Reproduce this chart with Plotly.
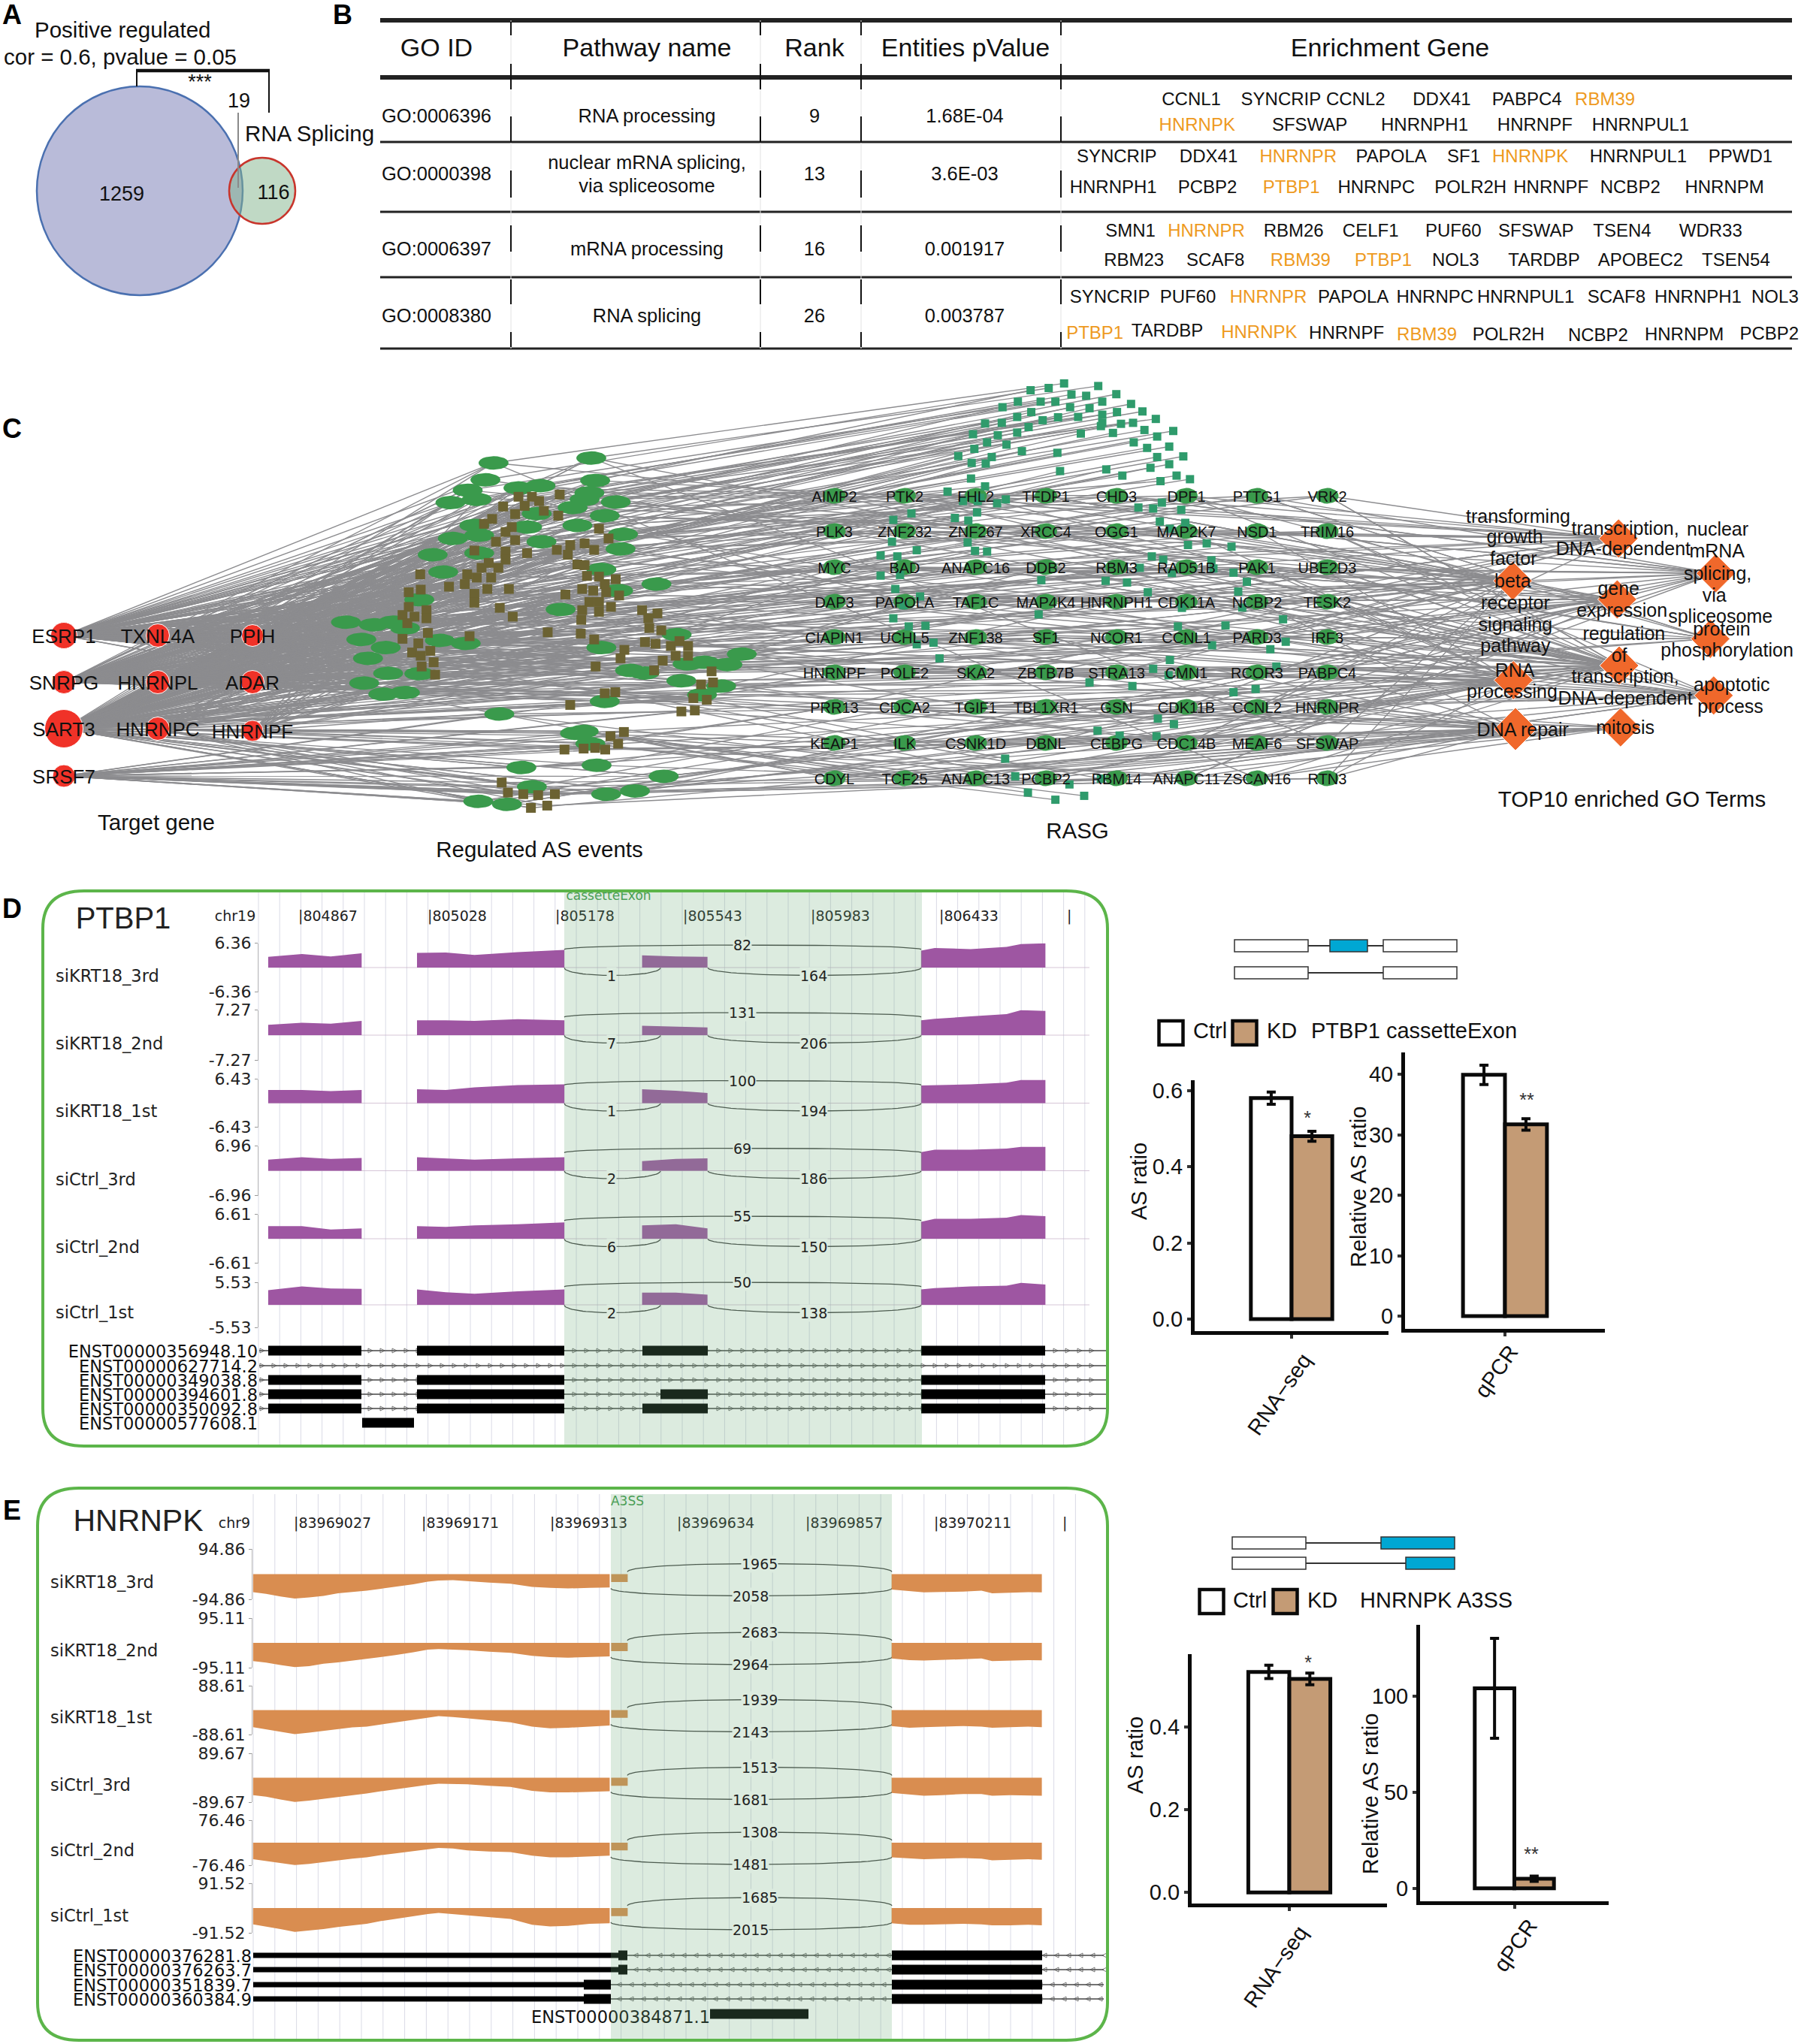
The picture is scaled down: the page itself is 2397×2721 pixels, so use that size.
import numpy as np
import plotly.graph_objects as go

W, H = 2397, 2721
ARIAL = "Liberation Sans"
DEJA = "DejaVu Sans"

# ---------- Panel A ----------
venn_big = (186, 254, 137, 139)
venn_small = (349, 254, 44, 44)
venn_labels = [("1259", 162, 257), ("116", 364, 255), ("19", 318, 133), ("***", 266, 108)]
a_titles = [("Positive regulated", 46, 40), ("cor = 0.6, pvalue = 0.05", 5, 76), ("RNA Splicing", 326, 178)]

# ---------- Panel B ----------
table_h_lines = [(27, 6), (103, 6), (189, 3), (282, 3), (369, 3), (464, 3)]
table_cols = [680, 1012, 1146, 1412]
table_col_segments = [(29, 47), (85, 119), (155, 190), (227, 263), (300, 335), (372, 405), (442, 462)]
table_head = [("GO ID", 581), ("Pathway name", 861), ("Rank", 1084), ("Entities pValue", 1285), ("Enrichment Gene", 1850)]
go_ids = ["GO:0006396", "GO:0000398", "GO:0006397", "GO:0008380"]
pathways = [["RNA processing"], ["nuclear mRNA splicing,", "via spliceosome"], ["mRNA processing"], ["RNA splicing"]]
pathway_y = [[154], [216, 247], [331], [420]]
ranks = ["9", "13", "16", "26"]
pvalues = ["1.68E-04", "3.6E-03", "0.001917", "0.003787"]
row_y = [154, 231, 331, 420]
# (gene, x in the 0.654-scale reading, y, highlighted)
gene_rows = [
    ("CCNL1", 1037, 131, 0), ("SYNCRIP", 1115, 131, 0), ("CCNL2", 1180, 131, 0), ("DDX41", 1255, 131, 0), ("PABPC4", 1329, 131, 0), ("RBM39", 1397, 131, 1),
    ("HNRNPK", 1042, 165, 1), ("SFSWAP", 1140, 165, 0), ("HNRNPH1", 1240, 165, 0), ("HNRNPF", 1336, 165, 0), ("HNRNPUL1", 1428, 165, 0),
    ("SYNCRIP", 972, 207, 0), ("DDX41", 1052, 207, 0), ("HNRNPR", 1130, 207, 1), ("PAPOLA", 1211, 207, 0), ("SF1", 1274, 207, 0), ("HNRNPK", 1332, 207, 1), ("HNRNPUL1", 1426, 207, 0), ("PPWD1", 1515, 207, 0),
    ("HNRNPH1", 969, 248, 0), ("PCBP2", 1051, 248, 0), ("PTBP1", 1124, 248, 1), ("HNRNPC", 1198, 248, 0), ("POLR2H", 1280, 248, 0), ("HNRNPF", 1350, 248, 0), ("NCBP2", 1419, 248, 0), ("HNRNPM", 1501, 248, 0),
    ("SMN1", 984, 306, 0), ("HNRNPR", 1050, 306, 1), ("RBM26", 1126, 306, 0), ("CELF1", 1193, 306, 0), ("PUF60", 1265, 306, 0), ("SFSWAP", 1337, 306, 0), ("TSEN4", 1412, 306, 0), ("WDR33", 1489, 306, 0),
    ("RBM23", 987, 345, 0), ("SCAF8", 1058, 345, 0), ("RBM39", 1132, 345, 1), ("PTBP1", 1204, 345, 1), ("NOL3", 1267, 345, 0), ("TARDBP", 1344, 345, 0), ("APOBEC2", 1428, 345, 0), ("TSEN54", 1511, 345, 0),
    ("SYNCRIP", 966, 394, 0), ("PUF60", 1034, 394, 0), ("HNRNPR", 1104, 394, 1), ("PAPOLA", 1178, 394, 0), ("HNRNPC", 1249, 394, 0), ("HNRNPUL1", 1328, 394, 0), ("SCAF8", 1407, 394, 0), ("HNRNPH1", 1478, 394, 0), ("NOL3", 1545, 394, 0),
    ("PTBP1", 953, 442, 1), ("TARDBP", 1016, 439, 0), ("HNRNPK", 1096, 441, 1), ("HNRNPF", 1172, 442, 0), ("RBM39", 1242, 444, 1), ("POLR2H", 1313, 444, 0), ("NCBP2", 1391, 445, 0), ("HNRNPM", 1466, 444, 0), ("PCBP2", 1540, 443, 0),
]

# ---------- Panel C ----------
targets = [("ESRP1", 85, 846, 35), ("TXNL4A", 210, 846, 31), ("PPIH", 336, 846, 29),
           ("SNRPG", 85, 908, 31), ("HNRNPL", 210, 908, 31), ("ADAR", 336, 908, 31),
           ("SART3", 85, 970, 51), ("HNRNPC", 210, 970, 31), ("HNRNPF", 336, 973, 28),
           ("SRSF7", 85, 1033, 30)]
# positions read in the 1.568 x 2.306 zoom of (0,500)
as_green = [(1030,268),(1234,253),(1013,320),(1242,322),(1128,338),(1082,345),(976,352),(995,380),(940,390),(1230,360),(1285,388),(1220,380),(1195,405),(1262,430),(1120,424),(1205,460),(990,460),(1100,465),(1300,487),(945,500),(1000,490),(1130,510),(1295,532),(903,550),(1000,545),(925,603),(1255,595),(1370,640),(1290,660),(875,688),(1170,718),(722,757),(780,765),(820,757),(845,775),(754,810),(805,835),(918,813),(972,822),(768,868),(1255,835),(1412,795),(810,914),(875,915),(1548,855),(1435,885),(1470,880),(1518,887),(1315,905),(1345,913),(1422,937),(1505,953),(760,944),(1465,980),(800,978),(845,973),(1262,1000),(1042,1039),(1218,1092),(1200,1098),(1232,1130),(1088,1203),(1245,1196),(1385,1230),(1110,1262),(1265,1285),(1325,1275),(998,1307),(1058,1316)]
as_brown = [(877,610),(853,665),(878,657),(937,648),(853,710),(890,720),(840,735),(865,740),(890,745),(850,760),(893,790),(840,808),(873,822),(860,850),(898,845),(878,860),(905,880),(880,893),(908,918),(980,800),
            (1168,365),(1082,372),(1110,372),(1050,402),(1095,400),(1125,385),(1075,425),(1027,440),(1010,455),(1068,465),(1055,480),(1165,430),(1135,415),(1075,505),(1035,510),(990,537),(1055,540),(1100,545),(1162,535),(1190,520),(1220,515),(1250,470),(1270,500),(1240,535),(1185,550),(1055,565),(1020,575),(1040,590),(1005,590),(975,610),(995,620),(1025,620),(970,640),(1017,655),(1062,655),(990,670),(990,697),(1043,713),(1070,740),(1205,580),(1220,582),(1225,615),(1250,617),(1285,625),(1215,655),(1238,660),(1262,640),(1265,665),(1292,675),(1180,672),(1230,695),(1250,695),(1275,710),(1215,720),(1250,725),(1213,750),(1143,788),(1212,792),(1240,810),(1303,842),(1340,720),(1372,730),(1353,745),(1355,775),(1346,818),(1368,823),(1380,782),(1400,830),(1418,815),(1436,830),(1410,860),(1436,860),(1295,868),(1383,875),(1243,893),(1365,905),(1485,908),(1463,948),(1488,942),(1447,990),(1475,995),(1262,975),(1284,972),(1190,1011),(1422,1031),(1450,1028),(1302,1094),(1274,1107),(1290,1130),(1178,1148),(1218,1145),(1242,1143),(1263,1148),(1047,1249),(1060,1280),(1092,1285),(1123,1288),(1158,1285),(1108,1327),(1142,1320)]
# positions read in the 1.122 x 2.306 zoom of (1000,500)
rasg_squares = [(467,24),(518,32),(417,45),(444,38),(545,57),(478,58),(500,62),(398,80),(432,80),(454,80),(524,80),(567,87),(375,97),(476,97),(505,100),(418,112),(546,112),(584,110),(397,127),(524,120),(488,127),(458,128),(435,137),(604,133),(349,147),(374,145),(414,158),(524,145),(552,148),(570,145),(522,155),(587,167),(630,170),(397,175),(368,183),(331,180),(492,178),(540,176),(606,187),(352,205),(571,205),(381,212),(333,225),(591,222),(624,218),(404,232),(457,237),(309,247),(359,250),(606,250),(645,248),(329,268),(350,270),(624,272),(596,283),(461,293),(530,288),(554,307),(635,307),(655,318),(328,316),(611,324),(349,340),(293,356),(380,380),(367,392),(316,385),(338,385),(342,375),(613,390),(578,405),(600,408),(642,412),(337,420),(239,423),(212,443),(304,437),(324,445),(610,448),(648,452),(625,470),(210,510),(323,512),(652,520),(680,515),(717,525),(247,536),(334,538),(352,540),(193,552),(218,555),(598,555),(615,565),(687,567),(580,590),(628,606),(690,592),(720,605),(193,614),(222,612),(433,628),(529,630),(561,635),(740,633),(215,655),(592,665),(727,663),(252,678),(227,705),(429,733),(643,713),(733,712),(212,745),(794,748),(708,767),(235,770),(260,768),(637,770),(247,825),(272,820),(798,817),(688,828),(775,840),(281,868),(625,873),(600,900),(784,893),(623,920),(505,942),(569,953),(720,972),(753,962),(607,1053),(631,1070),(517,1090),(550,1105),(605,1107),(379,1176),(394,1230),(522,1237),(475,1255),(413,1280),(497,1290),(454,1302)]
rasg_col_x = [1110.5, 1204, 1298.6, 1392, 1486, 1579, 1673, 1766.5]
rasg_row_y = [660, 707, 755, 801, 848, 895, 941, 989, 1036]
rasg_names = ["AIMP2","PTK2","FHL2","TFDP1","CHD3","DPF1","PTTG1","VRK2",
              "PLK3","ZNF232","ZNF267","XRCC4","OGG1","MAP2K7","NSD1","TRIM16",
              "MYC","BAD","ANAPC16","DDB2","RBM3","RAD51B","PAK1","UBE2D3",
              "DAP3","PAPOLA","TAF1C","MAP4K4","HNRNPH1","CDK11A","NCBP2","TESK2",
              "CIAPIN1","UCHL5","ZNF138","SF1","NCOR1","CCNL1","PARD3","IRF3",
              "HNRNPF","POLE2","SKA2","ZBTB7B","STRA13","CMN1","RCOR3","PABPC4",
              "PRR13","CDCA2","TGIF1","TBL1XR1","GSN","CDK11B","CCNL2","HNRNPR",
              "KEAP1","ILK","CSNK1D","DBNL","CEBPG","CDC14B","MEAF6","SFSWAP",
              "CDYL","TCF25","ANAPC13","PCBP2","RBM14","ANAPC11","ZSCAN16","RTN3"]
go_nodes = [(1295,500,40),(1440,607,40),(1137,630,40),(1293,687,40),(1432,808,40),(1296,890,40),(1138,935,40),(1437,982,40),(1298,1080,40),(1141,1085,44)]
go_texts = [("transforming",1145,430),("growth",1140,493),("factor",1138,560),("beta",1137,628),("receptor",1141,695),("signaling",1141,762),("pathway",1141,828),
            ("transcription,",1305,467),("DNA-dependent",1302,530),("nuclear",1443,470),("mRNA",1442,537),("splicing,",1443,605),("via",1438,672),("spliceosome",1447,737),
            ("gene",1295,652),("expression",1300,718),("regulation",1303,790),("of",1296,857),("transcription,",1305,922),("DNA-dependent",1305,988),
            ("protein",1449,776),("phosphorylation",1457,842),("RNA",1140,903),("processing",1136,967),("apoptotic",1464,948),("process",1462,1013),("mitosis",1305,1078),("DNA repair",1152,1085)]
c_captions = [("Target gene", 208, 1095), ("Regulated AS events", 718, 1131), ("RASG", 1434, 1106), ("TOP10 enriched GO Terms", 2172, 1064)]
# Network links: the individual lines cannot be traced in the reference, so this
# hand-typed wiring only approximates the density and direction of the edge bundles.
green_t1 = "630146260136740361824062613740261386406371642601346064713769969699696"
green_t2 = "063621483061702636403813620741638062371604136280271364063966769969679"
green_t3 = "363605406134630645360136463053646301635406134506346036345066996676969"
brown_t1 = "6301462601367403618240626137402613864063716426013460647136301462601367403618240626137402613864063716420"
brown_tail1 = "96996769969697969"
brown_t2 = "3670261436081826406316473026831640367046172064310637410624630127364018632607416238064721604361702638640"
brown_tail2 = "69769996796969967"
brown_t3 = "6345036406354603640536406354036460350643605346036450634603645063540634603564036450364063546035406346036"
brown_t4 = "4063640536046350634603564036406354603640536046350634603645036046350634063546304635460364053604635063460"
grid_src_a = [0,3,5,7,9,12,15,18, 21,24,1,4,8,95,100,105, 110,115,120,125,130,35,40,45, 31,36,41,46,51,135,140,145,
              150,155,160,165,33,38,43,48, 53,56,75,80,85,170,172,174, 178,52,47,57,59,61,63,65, 67,68,175,178,181,184,187,190, 58,60,62,64,66,176,180,186]
grid_src_b = [90,96,102,108,114,120,126,132, 2,6,10,14,19,23,27,29, 32,37,42,49,54,70,76,82, 88,94,99,106,112,118,124,137,
              143,149,156,162,168,71,77,83, 30,34,39,44,50,55,147,158, 60,62,64,66,68,171,177,183, 59,61,63,65,67,173,179,185, 57,58,176,182,188,184,189,186]
square_src = [0,1,3,2,9,4,5,8,6,7,11,10,12,13,15,17,14,16,89,90,91,92,93,94,95,96,97,98,99,100,101,102,103,104,105,106,107,108,109,110,
              111,112,113,114,115,116,117,118,119,120,121,122,123,124,125,126,127,128,129,130,18,19,20,21,22,23,24,25,26,27,28,29,30,
              131,132,133,134,135,136,137,138,139,140,141,142,143,144,145,146,147,148,149,150,151,152,31,32,33,34,35,36,37,38,39,40,41,42,43,44,
              153,154,155,156,157,158,159,160,161,162,163,164,165,45,46,47,48,49,50,51,52,53,54,55,56,166,167,168,169,170,171,57,58,59,60,61,172]
grid_go_a = "02520215"+"05250317"+"25053142"+"53160527"+"06251473"+"56396751"+"96586937"+"69895698"+"98968989"
grid_go_b = "25021540"+"53142065"+"31526047"+"25731602"+"53790425"+"63952417"+"58693275"+"95638175"+"69857396"
grid_go_c = "50231045"+"20553614"+"02573165"+"73520496"+"69257301"+"53620749"+"06753928"+"53976012"+"85697352"

# ---------- Panel D ----------
samples = ["siKRT18_3rd", "siKRT18_2nd", "siKRT18_1st", "siCtrl_3rd", "siCtrl_2nd", "siCtrl_1st"]
d_max = [6.36, 7.27, 6.43, 6.96, 6.61, 5.53]
d_base = [1288, 1378, 1468.5, 1558.5, 1649, 1737]
d_half = [32.5, 33.5, 32, 33, 32.5, 30]
d_label_y = [1298, 1388, 1478, 1569, 1659, 1746]
d_exon_x = [[373,420,460,503], [580,620,660,720,785], [893,940,984], [1281,1300,1350,1400,1420,1454]]
d_cov = [
    [[2.8,3.5,2.9,3.7],[3.8,3.9,3.3,4.0,4.6],[3.2,2.9,2.8],[4.4,5.1,4.8,5.4,6.1,6.3]],
    [[3.0,3.6,3.3,4.1],[4.3,4.3,4.1,4.6,4.3],[2.7,2.4,2.2],[4.3,4.7,5.4,6.1,7.2,7.0]],
    [[3.5,3.5,3.2,3.5],[3.7,3.5,4.2,4.8,5.0],[3.7,3.3,2.7],[4.7,4.8,5.0,5.5,6.2,6.2]],
    [[3.1,3.8,3.3,3.6],[3.8,3.5,3.1,3.5,3.8],[2.7,3.3,3.5],[5.2,5.9,5.9,6.2,6.7,6.7]],
    [[3.4,3.4,2.5,2.8],[3.4,3.2,3.6,3.9,4.4],[3.6,3.9,2.8],[4.6,5.4,5.4,5.7,6.4,6.1]],
    [[3.6,4.5,4.0,3.9],[3.8,3.1,2.7,3.3,3.8],[3.0,3.0,2.5],[3.8,4.1,4.5,4.7,5.4,5.0]],
]
d_junctions = [(82,1,164),(131,7,206),(100,1,194),(69,2,186),(55,6,150),(50,2,138)]
d_ticks = [("804867",397),("805028",569),("805178",739),("805543",909),("805983",1079),("806433",1250),("",1420)]
d_tx_names = ["ENST00000356948.10","ENST00000627714.2","ENST00000349038.8","ENST00000394601.8","ENST00000350092.8","ENST00000577608.1"]
d_tx_y = [1798,1818,1837,1856,1875,1894]
d_tx_exons = [[(357,481),(555,751),(855,942),(1226,1391)], [], [(357,481),(555,751),(1226,1391)],
              [(357,481),(555,751),(879,942),(1226,1391)], [(357,481),(555,751),(855,942),(1226,1391)], [(482,551)]]
d_tx_line = [1,1,1,1,1,0]

# ---------- Panel E ----------
e_max = [94.86, 95.11, 88.61, 89.67, 76.46, 91.52]
e_base = [2095.5, 2187, 2276.5, 2366.5, 2453, 2540]
e_half = [33.5, 33, 32.5, 32.5, 30, 33]
e_label_y = [2105, 2196, 2285, 2375, 2462, 2549]
e_left_x = [352,370,390,410,430,450,470,490,510,530,550,575,595,610,630,650,680,710,740,765,790,820,848]
e_mid_x = [850,873]
e_right_x = [1240,1265,1285,1310,1340,1365,1380,1405,1430,1449]
e_left = [
    [68,74,84,92,88,82,72,68,62,55,48,38,28,24,23,27,32,36,48,52,54,52,50],
    [70,76,85,93,89,80,75,68,60,54,47,36,26,24,25,28,34,38,50,55,57,54,52],
    [62,70,80,87,82,76,68,63,60,52,44,34,26,22,25,30,36,44,60,66,64,60,56],
    [64,70,80,89,84,78,72,64,58,50,42,32,26,22,22,24,30,34,48,54,54,52,50],
    [56,62,70,76,72,66,60,54,50,42,36,28,22,18,20,26,30,32,44,50,50,46,44],
    [60,68,78,88,84,78,70,64,58,48,40,28,22,18,22,26,32,40,62,68,66,58,56],
]
e_mid = [[30,30],[32,32],[28,28],[30,30],[26,26],[30,30]]
e_right = [
    [58,64,69,67,66,62,72,70,68,69],
    [60,66,68,66,64,60,70,68,66,67],
    [58,64,62,60,58,60,64,62,60,62],
    [56,62,66,64,60,60,66,64,64,66],
    [50,54,56,54,52,54,60,58,56,58],
    [56,62,62,60,58,60,64,64,62,64],
]
e_junctions = [(1965,2058),(2683,2964),(1939,2143),(1513,1681),(1308,1481),(1685,2015)]
e_ticks = [("83969027",391),("83969171",561),("83969313",732),("83969634",901),("83969857",1072),("83970211",1243),("",1414)]
e_tx_names = ["ENST00000376281.8","ENST00000376263.7","ENST00000351839.7","ENST00000360384.9"]
e_tx_y = [2603,2622,2642,2661]
e_tx_utr_end = [823,823,777,777]
e_tx_exons = [[(823,835),(1187,1387)],[(823,835),(1187,1387)],[(777,813),(1187,1387)],[(777,813),(1187,1387)]]

# ---------- Bars ----------
bar_cat_rna = ["RNA\u2212seq"]
bar_cat_qpcr = ["qPCR"]
d_rna_val, d_rna_err = [0.58, 0.48], [0.016, 0.013]
d_qpcr_val, d_qpcr_err = [39.9, 31.7], [1.6, 0.95]
e_rna_val, e_rna_err = [0.533, 0.516], [0.016, 0.014]
e_qpcr_val, e_qpcr_err = [104, 5], [26, 1.4]

GRAY_EDGE = "#8C8C8F"
PURPLE = "#9E56A2"
ORANGE = "#D98D50"
TAN = "#C49B75"
BLUE = "#00A7D3"
TEXT_DY = 3

fig = go.Figure()
shapes, annots = [], []
layout = dict(xaxis=dict(domain=[0,1], range=[0,W], visible=False, fixedrange=True, automargin=False),
              yaxis=dict(domain=[0,1], range=[H,0], visible=False, fixedrange=True, automargin=False))


def text(items, size, color="#111", family=ARIAL, pos="middle center"):
    fig.add_trace(go.Scatter(x=[i[1] for i in items], y=[i[2]+TEXT_DY for i in items], text=[i[0] for i in items],
                             mode="text", textposition=pos, textfont=dict(size=size, color=color, family=family),
                             showlegend=False, hoverinfo="skip", xaxis="x", yaxis="y"))


def lines(segs, color="#000", width=1.0):
    xs, ys = [], []
    for s in segs:
        xs += [p[0] for p in s] + [None]
        ys += [p[1] for p in s] + [None]
    fig.add_trace(go.Scatter(x=xs, y=ys, mode="lines", line=dict(color=color, width=width),
                             showlegend=False, hoverinfo="skip", xaxis="x", yaxis="y"))


def rect(x0, x1, yc, h, fill="#000", line="#000", lw=0, layer="above"):
    shapes.append(dict(type="rect", xref="x", yref="y", x0=x0, x1=x1, y0=yc-h/2, y1=yc+h/2,
                       fillcolor=fill, line=dict(color=line, width=lw), layer=layer))


def frame(x0, y0, x1, y1, rx, ry, color="#5CB54A"):
    p = (f"M {x0+rx} {y0} L {x1-rx} {y0} Q {x1} {y0} {x1} {y0+ry} L {x1} {y1-ry} Q {x1} {y1} {x1-rx} {y1} "
         f"L {x0+rx} {y1} Q {x0} {y1} {x0} {y1-ry} L {x0} {y0+ry} Q {x0} {y0} {x0+rx} {y0} Z")
    shapes.append(dict(type="path", xref="x", yref="y", path=p, line=dict(color=color, width=4), layer="above"))


def arc(x0, y0, x1, peak):
    t = np.linspace(0, 1, 40)
    yc = y0 + (peak - y0) / 0.75
    xx = (1-t)**3*x0 + 3*(1-t)**2*t*x0 + 3*(1-t)*t**2*x1 + t**3*x1
    yy = (1-t)**3*y0 + 3*(1-t)**2*t*yc + 3*(1-t)*t**2*yc + t**3*y0
    return list(zip(xx, yy))


def junction_label(val, x, y):
    annots.append(dict(text=str(val), x=x, y=y, xref="x", yref="y", showarrow=False, bgcolor="#DCEBDF", borderpad=0,
                       font=dict(family=DEJA, size=19, color="#222")))


def y_title(t, x, y):
    annots.append(dict(text=t, x=x, y=y, xref="x", yref="y", showarrow=False, textangle=-90,
                       font=dict(family=ARIAL, size=29, color="#111")))


# grid lines in sashimi panels
lines([[(x, 1186), (x, 1925)] for x in np.arange(344, 1451, 28.2)], "#DADBE6", 1)
lines([[(x, 1989), (x, 2715)] for x in np.arange(337, 1444, 28.8)], "#DADBE6", 1)

# ---------- Panel A draw ----------
for (cx, cy, rx, ry), fill, ln in [(venn_big, "rgba(115,120,180,0.5)", "#4A70B0"), (venn_small, "rgba(130,180,140,0.5)", "#C8352C")]:
    shapes.append(dict(type="circle", xref="x", yref="y", x0=cx-rx, x1=cx+rx, y0=cy-ry, y1=cy+ry,
                       fillcolor=fill, line=dict(color=ln, width=2.5), layer="below"))
lines([[(182, 115), (182, 94)], [(358, 94), (358, 150)]], "#111", 2)
lines([[(181, 94), (359, 94)]], "#111", 4.5)
lines([[(317, 150), (317, 250)]], "#8A8A8A", 2)
text(venn_labels, 27)
text(a_titles, 29.5, pos="middle right")
text([("<b>A</b>", 16, 20), ("<b>B</b>", 456, 20), ("<b>C</b>", 16, 571), ("<b>D</b>", 16, 1210), ("<b>E</b>", 16, 2011)], 36, "#000")
# ---------- Panel B draw ----------
for y, w in table_h_lines:
    lines([[(506, y), (2385, y)]], "#222", w)
lines([[(c, 27), (c, 464)] for c in table_cols], "#E2E2E2", 1)
lines([[(c, a), (c, b)] for c in table_cols for a, b in table_col_segments], "#111", 2)
text([(t, x, 63) for t, x in table_head], 34)
text([(t, 581, y) for t, y in zip(go_ids, row_y)], 25.5)
text([(t, 861, y) for ts, ys in zip(pathways, pathway_y) for t, y in zip(ts, ys)], 25.5)
text([(t, 1084, y) for t, y in zip(ranks, row_y)], 25.5)
text([(t, 1284, y) for t, y in zip(pvalues, row_y)], 25.5)
text([(g, x/0.654, y) for g, x, y, h in gene_rows if not h], 24)
text([(g, x/0.654, y) for g, x, y, h in gene_rows if h], 24, "#EE9A1E")

# ---------- Panel C draw ----------
def zl(p): return (p[0]/1.568, 500+p[1]/2.306)
def zr(p): return (1000+p[0]/1.122, 500+p[1]/2.306)
green_xy = [zl(p) for p in as_green]
brown_xy = [zl(p) for p in as_brown]
events = green_xy + brown_xy
square_xy = [zr(p) for p in rasg_squares]
grid_xy = [(x, y) for y in rasg_row_y for x in rasg_col_x]
go_xy = [zr(p[:2]) for p in go_nodes]
target_xy = [(t[1], t[2]) for t in targets]
n_tail = len(brown_tail1)
brown_body = brown_xy[:-n_tail]
brown_end = brown_xy[-n_tail:]

edges = []
for s in (green_t1, green_t2, green_t3):
    edges += [[target_xy[int(ch)], p] for ch, p in zip(s, green_xy)]
for s in (brown_t1, brown_t2, brown_t3, brown_t4):
    edges += [[target_xy[int(ch)], p] for ch, p in zip(s, brown_body)]
for s in (brown_tail1, brown_tail2):
    edges += [[target_xy[int(ch)], p] for ch, p in zip(s, brown_end)]
for src in (grid_src_a, grid_src_b):
    for i, e in enumerate(src):
        edges.append([events[e % len(events)], grid_xy[i]])
for e, p in zip(square_src, square_xy):
    edges.append([events[e % len(events)], p])
for s in (grid_go_a, grid_go_b, grid_go_c):
    for i, ch in enumerate(s):
        edges.append([grid_xy[i], go_xy[int(ch)]])
lines(edges, GRAY_EDGE, 1.4)


def ellipses(xy, rx, ry, color):
    t = np.linspace(0, 2*np.pi, 25)
    xs, ys = [], []
    for cx, cy in xy:
        xs += list(cx + rx*np.cos(t)) + [None]
        ys += list(cy + ry*np.sin(t)) + [None]
    fig.add_trace(go.Scatter(x=xs, y=ys, mode="lines", fill="toself", fillcolor=color, line=dict(width=0, color=color),
                             showlegend=False, hoverinfo="skip", xaxis="x", yaxis="y"))


ellipses(green_xy, 20, 9, "#3A9A4C")
ellipses(grid_xy, 15, 10.5, "#3A9A4C")
fig.add_trace(go.Scatter(x=[p[0] for p in brown_xy], y=[p[1] for p in brown_xy], mode="markers",
                         marker=dict(symbol="square", size=13, color="#6B6232", opacity=1), showlegend=False, hoverinfo="skip", xaxis="x", yaxis="y"))
fig.add_trace(go.Scatter(x=[p[0] for p in square_xy], y=[p[1] for p in square_xy], mode="markers",
                         marker=dict(symbol="square", size=11, color="#2F9B6C", opacity=1), showlegend=False, hoverinfo="skip", xaxis="x", yaxis="y"))
fig.add_trace(go.Scatter(x=[t[1] for t in targets], y=[t[2] for t in targets], mode="markers",
                         marker=dict(size=[t[3] for t in targets], color="#F03228", opacity=1), showlegend=False, hoverinfo="skip", xaxis="x", yaxis="y"))
fig.add_trace(go.Scatter(x=[p[0] for p in go_xy], y=[p[1] for p in go_xy], mode="markers",
                         marker=dict(symbol="diamond", size=[n[2] for n in go_nodes], color="#F0682B", opacity=1), showlegend=False, hoverinfo="skip", xaxis="x", yaxis="y"))
text([(t[0], t[1], t[2]) for t in targets], 26)
text([(n, x, y) for n, (x, y) in zip(rasg_names, grid_xy)], 20)
text([(t, *zr((x, y))) for t, x, y in go_texts], 25)
text(c_captions, 29.5)


# ---------- Tracks ----------
axis_id = 2


def track_axis(base, half, m, axx):
    global axis_id
    name = f"yaxis{axis_id}"
    layout[name] = dict(domain=[1-(base+half)/H, 1-(base-half)/H], range=[-m, m], anchor="free", position=axx/W, automargin=False,
                        tickvals=[-m, m], ticktext=[f"{-m:.2f}", f"{m:.2f}"], ticks="outside", ticklen=4, tickcolor="#999",
                        showline=True, linecolor="#BBB", linewidth=1, showgrid=False, zeroline=False, fixedrange=True,
                        tickfont=dict(family=DEJA, size=22, color="#222"))
    ref = f"y{axis_id}"
    axis_id += 1
    return ref


def poly(xs, vals):
    return list(xs) + [xs[-1], xs[0], xs[0]] + [None], list(vals) + [0, 0, vals[0]] + [None]


# D
for i, m in enumerate(d_max):
    ref = track_axis(d_base[i], d_half[i], m, 343)
    X, Y = [], []
    for ex, cov in zip(d_exon_x, d_cov[i]):
        px, py = poly([v/1.045 for v in ex], cov)
        X += px; Y += py
    fig.add_trace(go.Scatter(x=[357, 1450], y=[0, 0], mode="lines", line=dict(color="#CBB7CD", width=0.8), showlegend=False, hoverinfo="skip", xaxis="x", yaxis=ref))
    fig.add_trace(go.Scatter(x=X, y=Y, mode="lines", fill="toself", fillcolor=PURPLE, line=dict(width=0, color=PURPLE), showlegend=False, hoverinfo="skip", xaxis="x", yaxis=ref))
text([(s, 74, y) for s, y in zip(samples, d_label_y)], 22.5, "#222", DEJA, "middle right")
arcs = []
for i, b in enumerate(d_base):
    arcs += [arc(751, b-24, 1226, b-30), arc(751, b, 879, b+10.5), arc(942, b, 1226, b+10.5)]
    top, left, right = d_junctions[i]
    junction_label(top, 988, b-30); junction_label(left, 814, b+10.5); junction_label(right, 1083, b+10.5)
lines(arcs, "#444", 1.3)
text([("chr19", 313, 1218)], 19, "#222", DEJA)
text([("|"+t if t else "|", x, 1218) for t, x in d_ticks], 19, "#222", DEJA, "middle right")
text([("PTBP1", 164, 1223)], 40, "#222")
text([("cassetteExon", 810, 1191)], 17, "#3F9A4B", DEJA)
for name, y, ex, ln in zip(d_tx_names, d_tx_y, d_tx_exons, d_tx_line):
    for a, b in ex:
        rect(a, b, y, 13)
    if ln:
        lines([[(345, y), (1472, y)]], "#444", 1.4)
        xs = list(np.arange(352, 1472, 16))
        fig.add_trace(go.Scatter(x=xs, y=[y]*len(xs), mode="markers", marker=dict(symbol="arrow-right-open", size=6, color="#555", line=dict(width=0.8, color="#555")),
                                 showlegend=False, hoverinfo="skip", xaxis="x", yaxis="y"))
text([(n, 343, y) for n, y in zip(d_tx_names, d_tx_y)], 22.5, "#111", DEJA, "middle left")
shapes.append(dict(type="rect", xref="x", yref="y", x0=751, x1=1227, y0=1187, y1=1924, fillcolor="rgba(110,170,120,0.24)", line=dict(width=0), layer="above"))
frame(57, 1186, 1474, 1925, 55, 50)

# E
for i, m in enumerate(e_max):
    ref = track_axis(e_base[i], e_half[i], m, 335)
    X, Y = [], []
    for ex, cov in [(e_left_x, e_left[i]), (e_mid_x, e_mid[i]), (e_right_x, e_right[i])]:
        px, py = poly([v/1.045 for v in ex], [-v for v in cov])
        X += px; Y += py
    fig.add_trace(go.Scatter(x=X, y=Y, mode="lines", fill="toself", fillcolor=ORANGE, line=dict(width=0, color=ORANGE), showlegend=False, hoverinfo="skip", xaxis="x", yaxis=ref))
text([(s, 67, y) for s, y in zip(samples, e_label_y)], 22.5, "#222", DEJA, "middle right")
arcs = []
for i, b in enumerate(e_base):
    arcs += [arc(835, b-3, 1187, b-14), arc(813, b+19, 1187, b+29)]
    junction_label(e_junctions[i][0], 1011, b-14); junction_label(e_junctions[i][1], 999, b+29)
lines(arcs, "#444", 1.3)
text([("chr9", 312, 2026)], 19, "#222", DEJA)
text([("|"+t if t else "|", x, 2026) for t, x in e_ticks], 19, "#222", DEJA, "middle right")
text([("HNRNPK", 184, 2025)], 41, "#222")
text([("A3SS", 835, 1997)], 17, "#3F9A4B", DEJA)
for y, ex, ue in zip(e_tx_y, e_tx_exons, e_tx_utr_end):
    rect(337, ue, y, 7)
    for a, b in ex:
        rect(a, b, y, 13)
    lines([[(ex[0][1], y), (1469, y)]], "#444", 1.4)
    xs = list(np.arange(ex[0][1]+8, 1469, 16))
    fig.add_trace(go.Scatter(x=xs, y=[y]*len(xs), mode="markers", marker=dict(symbol="arrow-left-open", size=6, color="#555", line=dict(width=0.8, color="#555")),
                             showlegend=False, hoverinfo="skip", xaxis="x", yaxis="y"))
text([(n, 335, y) for n, y in zip(e_tx_names, e_tx_y)], 22.5, "#111", DEJA, "middle left")
text([("ENST00000384871.1", 945, 2684)], 22.5, "#111", DEJA, "middle left")
rect(945, 1076, 2681, 13)
shapes.append(dict(type="rect", xref="x", yref="y", x0=813, x1=1187, y0=1989, y1=2715, fillcolor="rgba(110,170,120,0.24)", line=dict(width=0), layer="above"))
frame(50, 1981, 1474, 2716, 55, 50)


# ---------- Bars draw ----------
def bars(n, cat, vals, errs, x0, x1, y_top, y_bot, rng, tickv, fmt=None, shift=0, stand=0):
    xn, yn = f"xaxis{n}", f"yaxis{n}"
    for v, e, c, nm in zip(vals, errs, ["#FFFFFF", TAN], ["Ctrl", "KD"]):
        fig.add_trace(go.Bar(x=cat, y=[v], name=nm, xaxis=f"x{n}", yaxis=f"y{n}", showlegend=False, hoverinfo="skip",
                             marker=dict(color=c, line=dict(color="#0A0A0A", width=5)),
                             error_y=dict(type="data", array=[e], visible=True, thickness=4, width=6, color="#0A0A0A")))
    layout[xn] = dict(domain=[x0/W, x1/W], anchor=f"y{n}", automargin=False, showline=True, linecolor="#0A0A0A", linewidth=5, ticks="outside", ticklen=5, tickwidth=4,
                      tickcolor="#333", tickangle=-55, tickfont=dict(family=ARIAL, size=29, color="#111"), showgrid=False, fixedrange=True,
                      ticklabelshift=shift, ticklabelstandoff=stand)
    layout[yn] = dict(domain=[1-y_bot/H, 1-y_top/H], anchor=f"x{n}", automargin=False, range=rng, tickvals=tickv, showline=True, linecolor="#0A0A0A", linewidth=5,
                      ticks="outside", ticklen=5, tickwidth=4, tickcolor="#333", tickfont=dict(family=ARIAL, size=29, color="#111"), showgrid=False,
                      zeroline=False, fixedrange=True, tickformat=fmt)


bars(20, bar_cat_rna, d_rna_val, d_rna_err, 1590, 1848, 1438, 1772, [-0.0316, 0.627], [0, 0.2, 0.4, 0.6], ".1f", 16, 0)
bars(21, bar_cat_qpcr, d_qpcr_val, d_qpcr_err, 1870, 2136, 1401, 1769, [-2.1, 43.6], [0, 10, 20, 30, 40], None, 7, -8)
bars(22, bar_cat_rna, e_rna_val, e_rna_err, 1586, 1846, 2202, 2534, [-0.027, 0.576], [0, 0.2, 0.4], ".1f", 14, 0)
bars(23, bar_cat_qpcr, e_qpcr_val, e_qpcr_err, 1890, 2141, 2163, 2531, [-6.7, 137], [0, 50, 100], None, 20, -6)
y_title("AS ratio", 1516, 1573)
y_title("Relative AS ratio", 1808, 1580)
y_title("AS ratio", 1511, 2337)
y_title("Relative AS ratio", 1824, 2388)

text([("*", 1740, 1488), ("**", 2032, 1464), ("*", 1741, 2213), ("**", 2038, 2468)], 25, "#333")
# legends
legend_boxes = [(1558.5, 1375, "#FFFFFF"), (1656.5, 1375, TAN), (1612.5, 2132, "#FFFFFF"), (1710.5, 2132, TAN)]
fig.add_trace(go.Scatter(x=[b[0] for b in legend_boxes], y=[b[1] for b in legend_boxes], mode="markers", showlegend=False, hoverinfo="skip", xaxis="x", yaxis="y",
                         marker=dict(symbol="square", size=32, color=[b[2] for b in legend_boxes], line=dict(color="#0A0A0A", width=4.5))))
text([("Ctrl", 1588, 1372), ("KD", 1686, 1372), ("PTBP1 cassetteExon", 1745, 1372),
      ("Ctrl", 1641, 2130), ("KD", 1740, 2130), ("HNRNPK A3SS", 1810, 2130)], 29, "#111", pos="middle right")
# exon diagrams
lines([[(1741, 1259), (1841, 1259)], [(1741, 1295), (1841, 1295)], [(1738, 2054), (1838, 2054)], [(1738, 2081), (1871, 2081)]], "#333", 2)
for a, b, y, c in [(1643, 1741, 1259, "#FFFFFF"), (1770, 1820, 1259, BLUE), (1841, 1939, 1259, "#FFFFFF"), (1643, 1741, 1295, "#FFFFFF"), (1841, 1939, 1295, "#FFFFFF"),
                   (1640, 1738, 2054, "#FFFFFF"), (1838, 1936, 2054, BLUE), (1640, 1738, 2081, "#FFFFFF"), (1871, 1936, 2081, BLUE)]:
    rect(a, b, y, 16, c, "#333", 1.5)

fig.update_layout(template="none", width=W, height=H, margin=dict(l=0, r=0, t=0, b=0, pad=0), paper_bgcolor="white", plot_bgcolor="rgba(0,0,0,0)",
                  barmode="group", bargap=0.58, bargroupgap=0, shapes=shapes, annotations=annots, showlegend=False, **layout)
fig.write_html("out.html", config=dict(displayModeBar=False), post_script="document.body.style.margin='0';")
